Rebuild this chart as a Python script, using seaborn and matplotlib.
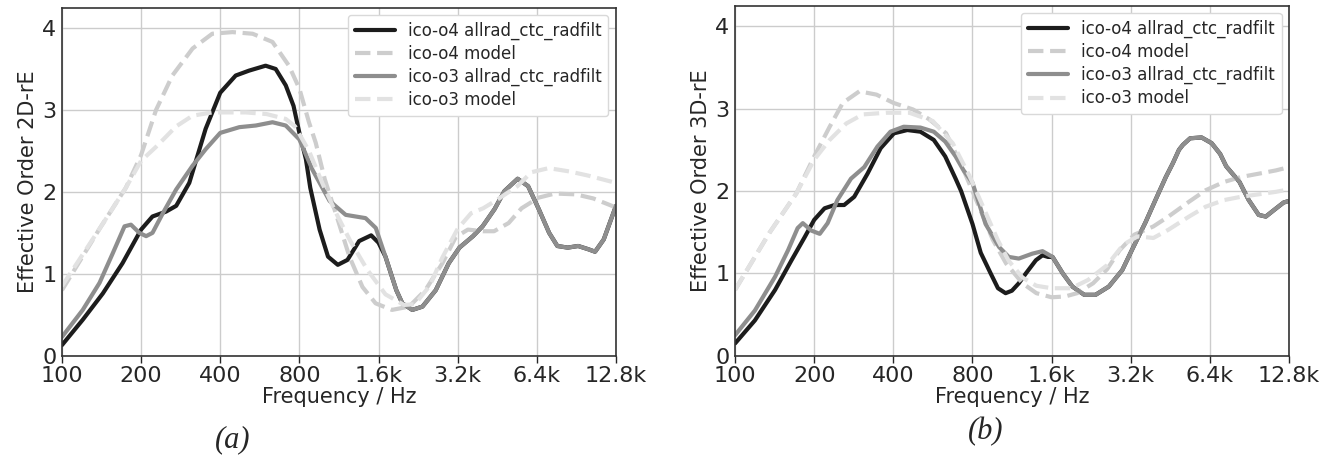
import matplotlib
matplotlib.use("Agg")
import matplotlib.pyplot as plt
import numpy as np
import pandas as pd
import seaborn as sns

# ---- data (frequency in Hz, effective order) ----
tick_freqs = [100, 200, 400, 800, 1600, 3200, 6400, 12800]
tick_labels = ['100', '200', '400', '800', '1.6k', '3.2k', '6.4k', '12.8k']
series_names = ['ico-o4 allrad_ctc_radfilt', 'ico-o4 model',
                'ico-o3 allrad_ctc_radfilt', 'ico-o3 model']

# (a) 2D-rE
o4_allrad_2d_f = [100, 120, 143, 170, 200, 221, 249, 272, 305, 352, 400, 458, 515, 595, 650,
                  710, 760, 800, 847, 880, 955, 1028, 1120, 1219, 1350, 1500, 1600, 1700, 1870,
                  1971, 2150, 2350, 2640, 2960, 3250, 3660, 3980, 4420, 4820, 5410, 5930, 6510,
                  7130, 7660, 8390, 9190, 10050, 10660, 11500, 12800]
o4_allrad_2d_v = [0.13, 0.44, 0.76, 1.13, 1.54, 1.70, 1.76, 1.83, 2.11, 2.77, 3.21, 3.42, 3.48,
                  3.54, 3.50, 3.30, 3.05, 2.72, 2.40, 2.05, 1.54, 1.21, 1.11, 1.17, 1.40, 1.47,
                  1.38, 1.21, 0.80, 0.64, 0.56, 0.60, 0.80, 1.13, 1.32, 1.46, 1.58, 1.79, 2.01,
                  2.16, 2.07, 1.79, 1.50, 1.34, 1.32, 1.34, 1.30, 1.27, 1.42, 1.83]
o4_model_2d_f = [100, 139, 175, 200, 228, 263, 314, 373, 445, 531, 632, 730, 800, 870, 923,
                 1000, 1100, 1240, 1390, 1560, 1800, 2090, 2410, 2800, 3150, 3500, 4000, 4400,
                 5000, 5600, 6500, 7500, 9000, 10500, 12800]
o4_model_2d_v = [0.80, 1.55, 2.05, 2.45, 3.00, 3.42, 3.75, 3.93, 3.95, 3.93, 3.83, 3.54, 3.26,
                 2.85, 2.60, 2.15, 1.74, 1.21, 0.84, 0.64, 0.56, 0.60, 0.80, 1.13, 1.45, 1.54,
                 1.52, 1.52, 1.62, 1.80, 1.93, 1.98, 1.97, 1.92, 1.81]
o3_allrad_2d_f = [100, 120, 139, 156, 173, 183, 197, 209, 221, 242, 272, 314, 352, 400, 473,
                  546, 632, 710, 800, 897, 1042, 1200, 1428, 1562, 1700, 1870, 1971, 2150, 2350,
                  2640, 2960, 3250, 3660, 3980, 4420, 4820, 5410, 5930, 6510, 7130, 7660, 8390,
                  9190, 10050, 10660, 11500, 12800]
o3_allrad_2d_v = [0.23, 0.56, 0.89, 1.25, 1.58, 1.60, 1.50, 1.46, 1.50, 1.74, 2.03, 2.32, 2.52,
                  2.72, 2.79, 2.81, 2.85, 2.81, 2.64, 2.27, 1.89, 1.72, 1.68, 1.56, 1.21, 0.80,
                  0.64, 0.56, 0.60, 0.80, 1.13, 1.32, 1.46, 1.58, 1.79, 2.01, 2.16, 2.07, 1.79,
                  1.50, 1.34, 1.32, 1.34, 1.30, 1.27, 1.42, 1.83]
o3_model_2d_f = [100, 139, 175, 200, 228, 272, 314, 373, 500, 600, 710, 770, 870, 980, 1100,
                 1250, 1450, 1700, 2000, 2200, 2500, 2800, 3200, 3600, 4000, 4500, 5400, 6100,
                 7100, 8500, 10000, 12800]
o3_model_2d_v = [0.85, 1.55, 2.05, 2.38, 2.55, 2.80, 2.93, 2.97, 2.97, 2.95, 2.89, 2.80, 2.50,
                 2.10, 1.75, 1.40, 1.05, 0.75, 0.62, 0.63, 0.85, 1.20, 1.55, 1.74, 1.80, 1.90,
                 2.07, 2.24, 2.29, 2.25, 2.20, 2.11]

# (b) 3D-rE
o4_allrad_3d_f = [100, 119, 142, 164, 184, 200, 219, 239, 260, 284, 319, 358, 402, 452, 507,
                  570, 630, 690, 724, 800, 860, 938, 1000, 1069, 1130, 1200, 1277, 1394, 1477,
                  1550, 1613, 1764, 1919, 2130, 2350, 2640, 2970, 3250, 3640, 3970, 4350, 4630,
                  4880, 5050, 5380, 5950, 6500, 7000, 7380, 8290, 8990, 9810, 10440, 11330,
                  12200, 12800]
o4_allrad_3d_v = [0.15, 0.43, 0.80, 1.16, 1.44, 1.65, 1.79, 1.83, 1.83, 1.93, 2.21, 2.52, 2.70,
                  2.74, 2.72, 2.62, 2.42, 2.15, 2.00, 1.60, 1.25, 1.00, 0.82, 0.76, 0.79, 0.88,
                  1.00, 1.16, 1.22, 1.20, 1.20, 1.00, 0.84, 0.74, 0.74, 0.84, 1.04, 1.30, 1.62,
                  1.89, 2.17, 2.34, 2.50, 2.56, 2.64, 2.65, 2.58, 2.45, 2.30, 2.11, 1.89, 1.71,
                  1.69, 1.78, 1.86, 1.88]
o4_model_3d_f = [100, 135, 171, 200, 229, 257, 297, 345, 400, 475, 548, 635, 730, 847, 955,
                 1074, 1240, 1400, 1600, 1800, 2000, 2300, 2600, 2900, 3300, 3900, 4450, 5330,
                 6170, 7240, 8400, 9800, 11400, 12800]
o4_model_3d_v = [0.80, 1.49, 1.97, 2.42, 2.78, 3.07, 3.21, 3.17, 3.07, 2.99, 2.87, 2.70, 2.30,
                 1.81, 1.41, 1.12, 0.88, 0.76, 0.71, 0.72, 0.76, 0.88, 1.05, 1.28, 1.47, 1.57,
                 1.69, 1.87, 2.01, 2.11, 2.17, 2.21, 2.25, 2.29]
o3_allrad_3d_f = [100, 119, 142, 159, 173, 181, 195, 210, 225, 245, 276, 310, 348, 390, 438,
                  507, 570, 630, 690, 740, 800, 897, 1010, 1100, 1200, 1352, 1477, 1613, 1764,
                  1919, 2130, 2350, 2640, 2970, 3250, 3640, 3970, 4350, 4630, 4880, 5050, 5380,
                  5950, 6500, 7000, 7380, 8290, 8990, 9810, 10440, 11330, 12200, 12800]
o3_allrad_3d_v = [0.25, 0.55, 0.96, 1.28, 1.55, 1.61, 1.52, 1.48, 1.61, 1.89, 2.15, 2.29, 2.54,
                  2.72, 2.78, 2.77, 2.72, 2.60, 2.42, 2.25, 2.10, 1.60, 1.32, 1.20, 1.18, 1.24,
                  1.27, 1.20, 1.00, 0.84, 0.74, 0.74, 0.84, 1.04, 1.30, 1.62, 1.89, 2.17, 2.34,
                  2.50, 2.56, 2.64, 2.65, 2.58, 2.45, 2.30, 2.11, 1.89, 1.71, 1.69, 1.78, 1.86,
                  1.88]
o3_model_3d_f = [100, 135, 171, 200, 229, 265, 306, 376, 460, 565, 673, 780, 900, 1000, 1100,
                 1240, 1400, 1600, 1900, 2200, 2600, 3000, 3400, 3900, 4450, 5330, 6170, 7240,
                 8400, 9800, 11400, 12800]
o3_model_3d_v = [0.80, 1.49, 1.97, 2.38, 2.62, 2.82, 2.93, 2.95, 2.95, 2.85, 2.58, 2.18, 1.73,
                 1.40, 1.15, 0.95, 0.85, 0.82, 0.82, 0.92, 1.10, 1.35, 1.45, 1.43, 1.53, 1.69,
                 1.81, 1.89, 1.93, 1.96, 1.99, 2.02]

colors = ['#1c1c1c', '#cdcdcd', '#8e8e8e', '#e2e2e2']
styles = ['-', '--', '-', '--']

sns.set_style("whitegrid", {"axes.edgecolor": "0.2", "grid.color": "0.8",
                            "xtick.bottom": True, "xtick.color": "0.15",
                            "ytick.color": "0.15", "axes.labelcolor": "0.15"})
plt.rcParams['font.family'] = ['DejaVu Sans']

fig = plt.figure(figsize=(13.35, 4.7), dpi=100)
ax_a = fig.add_axes([0.0464, 0.243, 0.415, 0.741])
ax_b = fig.add_axes([0.5506, 0.243, 0.415, 0.745])

panels = [
    (ax_a, 'Effective Order 2D-rE',
     [(o4_allrad_2d_f, o4_allrad_2d_v), (o4_model_2d_f, o4_model_2d_v),
      (o3_allrad_2d_f, o3_allrad_2d_v), (o3_model_2d_f, o3_model_2d_v)]),
    (ax_b, 'Effective Order 3D-rE',
     [(o4_allrad_3d_f, o4_allrad_3d_v), (o4_model_3d_f, o4_model_3d_v),
      (o3_allrad_3d_f, o3_allrad_3d_v), (o3_model_3d_f, o3_model_3d_v)]),
]

for ax, ylab, curves in panels:
    for (f, v), name, c, ls in zip(curves, series_names, colors, styles):
        df = pd.DataFrame({'freq': f, 'order': v})
        sns.lineplot(data=df, x='freq', y='order', ax=ax, color=c, linestyle=ls,
                     linewidth=3.0, label=name, solid_joinstyle='round')
    ax.set_xscale('log', base=2)
    ax.set_xlim(100, 12800)
    ax.set_ylim(0, 4.25)
    ax.set_xticks(tick_freqs)
    ax.set_xticklabels(tick_labels)
    ax.minorticks_off()
    ax.set_yticks([0, 1, 2, 3, 4])
    ax.tick_params(axis='both', labelsize=16, length=5, width=1, pad=1)
    ax.tick_params(axis='x', pad=2)
    ax.tick_params(axis='y', length=0, pad=4)
    ax.set_xlabel('Frequency / Hz', fontsize=15, labelpad=1)
    ax.set_ylabel(ylab, fontsize=15, labelpad=3)
    ax.grid(True, color='0.8', linewidth=1.0)
    for sp in ax.spines.values():
        sp.set_linewidth(1.2)
    ax.legend(loc='upper right', fontsize=12, handlelength=2.4, frameon=True,
              borderaxespad=0.45, labelspacing=0.3, edgecolor='0.85', framealpha=1)

fig.text(0.174, 0.064, '(a)', family='Liberation Serif', style='italic', fontsize=22,
         ha='center', va='center')
fig.text(0.738, 0.081, '(b)', family='Liberation Serif', style='italic', fontsize=22,
         ha='center', va='center')

fig.savefig('out.png', dpi=100)
